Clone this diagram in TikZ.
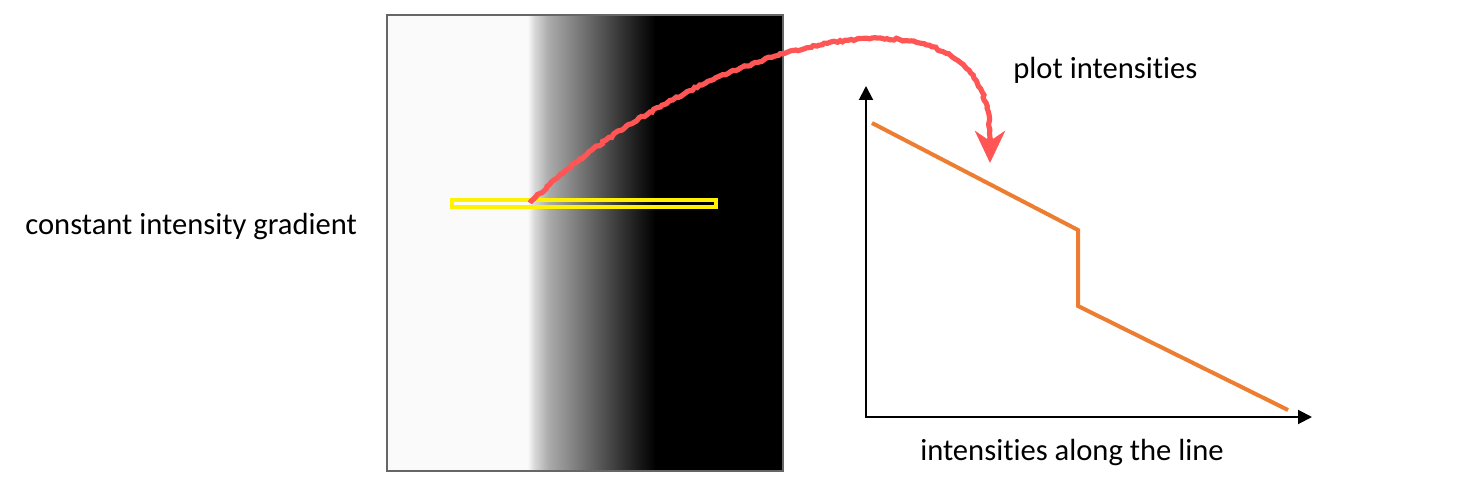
\documentclass[tikz,border=0pt]{standalone}
\usepackage{fontspec}
\setmainfont{Carlito}[Ligatures=CommonOff]
\usetikzlibrary{arrows.meta,decorations.pathmorphing}
\definecolor{plotorange}{HTML}{ED7D31}
\definecolor{arrowred}{HTML}{FF5555}
\definecolor{nearwhite}{HTML}{FAFAFA}
% the path is mapped on 25bp..75bp of the shading
\pgfdeclarehorizontalshading{edgeramp}{100bp}{color(0bp)=(nearwhite); color(26bp)=(nearwhite);
  color(28.5bp)=(black!15); color(34bp)=(black!33); color(50bp)=(black!60);
  color(65bp)=(black!85); color(75bp)=(black); color(100bp)=(black)}
\tikzset{
  lbl/.style={font=\fontsize{15.3}{18}\selectfont, inner sep=0pt},
  axis/.style={line width=1pt, -{Triangle[length=7pt,width=7pt]}},
  profile/.style={plotorange, line width=2pt, line join=miter},
  redline/.style={arrowred, line width=2.6pt},
  hand/.style={redline,
    decorate, decoration={random steps, segment length=1.5pt, amplitude=0.5pt}}
}
\begin{document}
\begin{tikzpicture}[x=0.5pt,y=-0.5pt]
\useasboundingbox (0,0) rectangle (1484,492);
% the image with the edge
\fill[nearwhite] (387,15) rectangle (526,471);
\shade[shading=edgeramp] (525,15) rectangle (656,471);
\fill[black] (655,15) rectangle (783,471);
\draw[gray!80!black, line width=1pt] (387,15) rectangle (783,471);
% sampled line
\draw[yellow, line width=2.2pt] (452.2,200.2) rectangle (715.8,206.8);
\coordinate (sample) at (530,203);
\node[lbl, anchor=west] (lblgrad) at (25,227) {constant intensity gradient};
% the plot
\coordinate (o) at (866,417);
\coordinate (ytop) at (866,86);
\coordinate (xend) at (1312,417);
\draw[axis] (o) ++(0,1) -- (ytop);
\draw[axis] (o) ++(-1,0) -- (xend);
\draw[profile] (872,123) -- (1078,230) -- (1078,306) -- (1288,410);
\node[lbl] (lblaxis) at (1072,453) {intensities along the line};
\node[lbl, anchor=west] (lblplot) at (1013,70) {plot intensities};
% arrow
\coordinate (bend) at (990,138);
\coordinate (drop) at (990,163);
\draw[hand] (sample) .. controls (690,45) and (992,-40) .. (bend);
\draw[redline, -{Stealth[length=16pt,width=15pt,inset=5pt]}] (bend) -- (drop);
\end{tikzpicture}
\end{document}
